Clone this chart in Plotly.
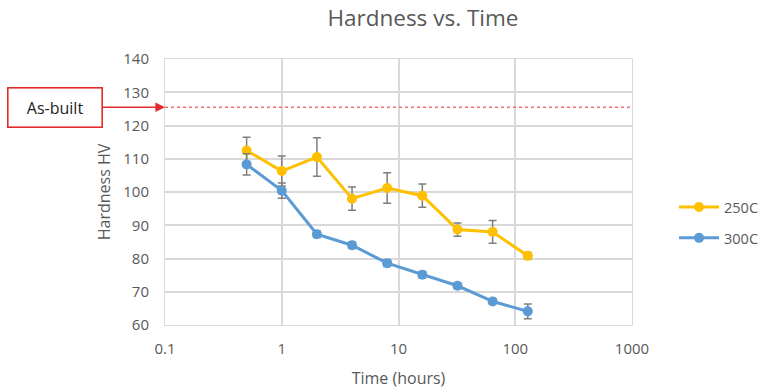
import plotly.graph_objects as go

# Hardness measurements vs. heat-treatment time
time_h = [0.5, 1, 2, 4, 8, 16, 32, 64, 128]
hv_250 = [112.5, 106.3, 110.5, 98.0, 101.2, 98.9, 88.7, 88.0, 80.8]
err_250 = [4.0, 4.5, 5.8, 3.5, 4.6, 3.5, 2.0, 3.4, 1.0]
hv_300 = [108.3, 100.4, 87.3, 84.0, 78.6, 75.1, 71.8, 67.1, 64.1]
err_300 = [3.2, 2.3, 1.0, 1.0, 1.0, 1.0, 0.8, 0.8, 2.2]
as_built_hv = 125.5

x_ticks = [0.1, 1, 10, 100, 1000]
x_tick_text = ["0.1", "1", "10", "100", "1000"]

FONT = "Open Sans"
GRAY_TEXT = "#595959"
GRID = "#d9d9d9"
YELLOW = "#FFC000"
BLUE = "#5B9BD5"
ERR = "#7f7f7f"
RED = "#e32b2b"

fig = go.Figure()

fig.add_trace(go.Scatter(
    x=time_h, y=hv_250, name="250C", mode="lines+markers", legendgroup="a",
    line=dict(color=YELLOW, width=3),
    marker=dict(color=YELLOW, size=10),
    error_y=dict(type="data", array=err_250, color=ERR, thickness=1.5, width=4),
))
fig.add_trace(go.Scatter(
    x=time_h, y=hv_300, name="300C", mode="lines+markers", legendgroup="b",
    line=dict(color=BLUE, width=3),
    marker=dict(color=BLUE, size=10),
    error_y=dict(type="data", array=err_300, color=ERR, thickness=1.5, width=4),
))

# As-built reference level
fig.add_shape(type="line", xref="paper", x0=0, x1=1, yref="y",
              y0=as_built_hv, y1=as_built_hv,
              line=dict(color="#f07070", width=1.5, dash="dot"))
fig.add_annotation(
    xref="paper", x=0, yref="y", y=as_built_hv,
    text="As-built", showarrow=True, ax=-110, ay=0,
    arrowhead=2, arrowsize=1.2, arrowwidth=1.6, arrowcolor=RED,
    bordercolor=RED, borderwidth=1.6, borderpad=8,
    width=77, height=22, bgcolor="white",
    font=dict(family=FONT, size=16, color="#222222"),
)

fig.update_layout(
    width=762, height=389,
    margin=dict(l=165, r=130, t=59, b=64, autoexpand=False),
    paper_bgcolor="white", plot_bgcolor="white",
    title=dict(text="Hardness vs. Time", x=0.555, xanchor="center",
               y=0.953, yanchor="middle",
               font=dict(family=FONT, size=22.5, color=GRAY_TEXT)),
    font=dict(family=FONT, color=GRAY_TEXT, size=15),
    showlegend=True,
    legend=dict(x=1.09, y=0.385, xanchor="left", yanchor="middle",
                font=dict(family=FONT, size=14.5, color=GRAY_TEXT),
                tracegroupgap=9, itemwidth=40),
)

fig.update_xaxes(
    type="log", range=[-1, 3],
    tickvals=x_ticks, ticktext=x_tick_text,
    showgrid=True, gridcolor=GRID, gridwidth=1.5,
    showline=True, linecolor=GRID, linewidth=1, mirror=True,
    ticks="", ticklabelstandoff=10,
    zeroline=False,
    title=dict(text="Time (hours)", standoff=15,
               font=dict(family=FONT, size=16, color=GRAY_TEXT)),
)
fig.update_yaxes(
    range=[60, 140], dtick=10,
    showgrid=True, gridcolor=GRID, gridwidth=1.5,
    showline=True, linecolor=GRID, linewidth=1, mirror=True,
    ticks="", ticklabelstandoff=12,
    zeroline=False,
    title=dict(text="Hardness HV", standoff=8,
               font=dict(family=FONT, size=16, color=GRAY_TEXT)),
)

fig.write_html("out.html")
